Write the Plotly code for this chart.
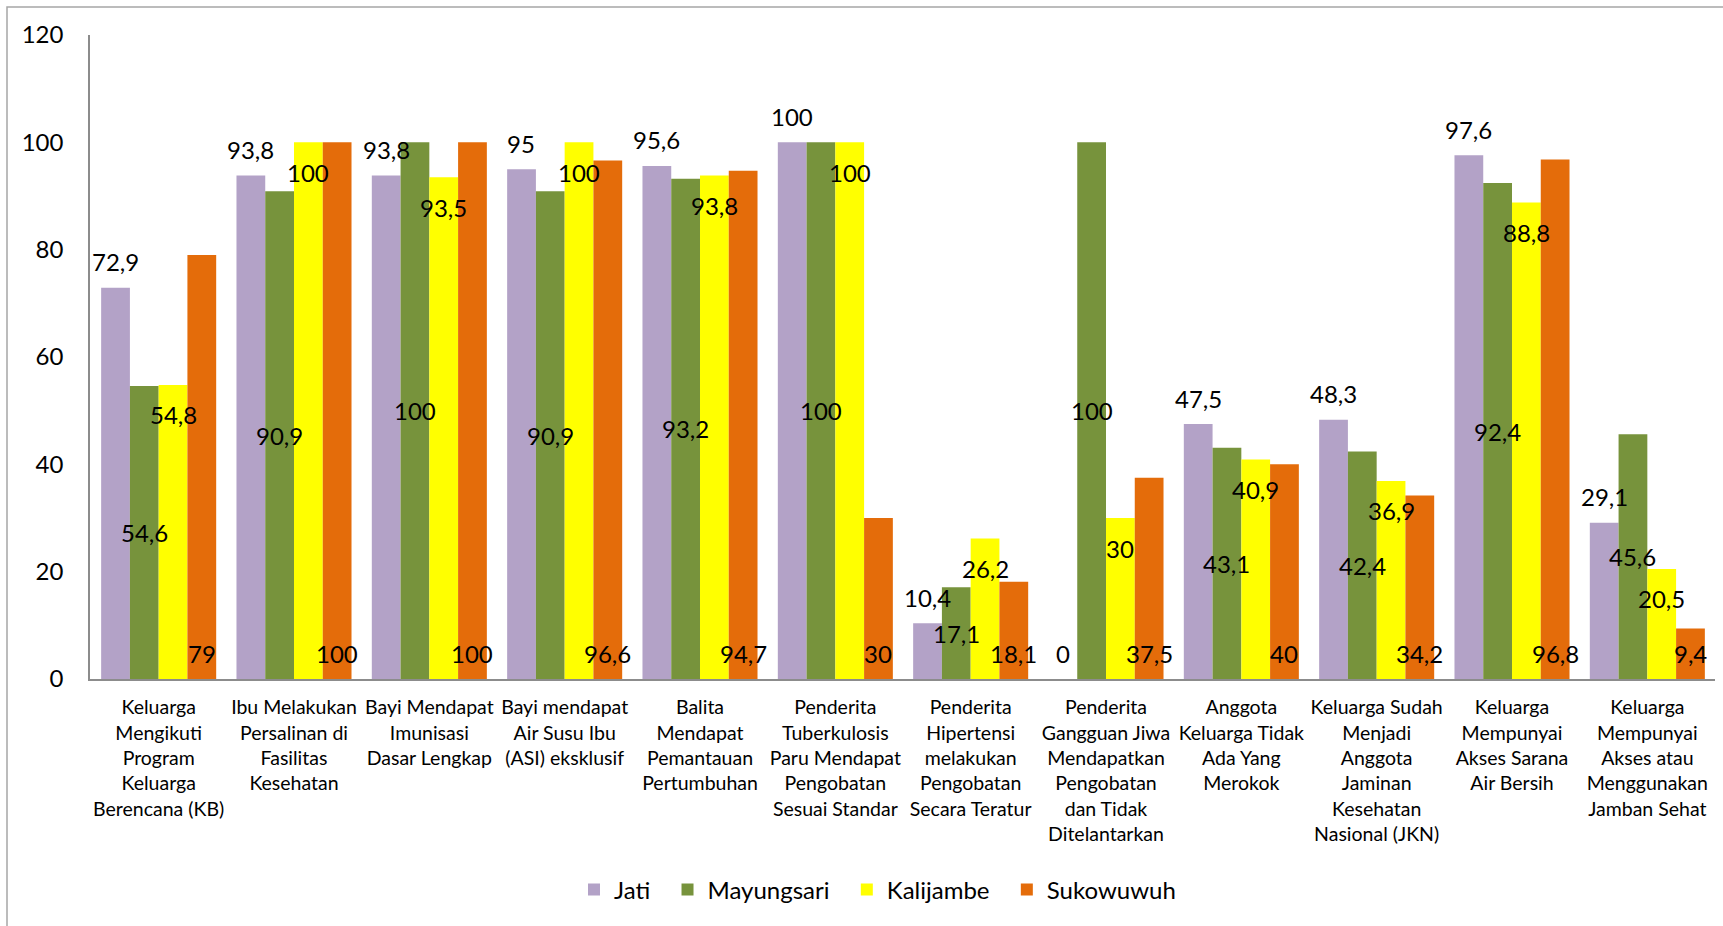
import plotly.graph_objects as go

categories = [
    "Keluarga<br>Mengikuti<br>Program<br>Keluarga<br>Berencana (KB)",
    "Ibu Melakukan<br>Persalinan di<br>Fasilitas<br>Kesehatan",
    "Bayi Mendapat<br>Imunisasi<br>Dasar Lengkap",
    "Bayi mendapat<br>Air Susu Ibu<br>(ASI) eksklusif",
    "Balita<br>Mendapat<br>Pemantauan<br>Pertumbuhan",
    "Penderita<br>Tuberkulosis<br>Paru Mendapat<br>Pengobatan<br>Sesuai Standar",
    "Penderita<br>Hipertensi<br>melakukan<br>Pengobatan<br>Secara Teratur",
    "Penderita<br>Gangguan Jiwa<br>Mendapatkan<br>Pengobatan<br>dan Tidak<br>Ditelantarkan",
    "Anggota<br>Keluarga Tidak<br>Ada Yang<br>Merokok",
    "Keluarga Sudah<br>Menjadi<br>Anggota<br>Jaminan<br>Kesehatan<br>Nasional (JKN)",
    "Keluarga<br>Mempunyai<br>Akses Sarana<br>Air Bersih",
    "Keluarga<br>Mempunyai<br>Akses atau<br>Menggunakan<br>Jamban Sehat",
]

jati = [72.9, 93.8, 93.8, 95, 95.6, 100, 10.4, 0, 47.5, 48.3, 97.6, 29.1]
mayungsari = [54.6, 90.9, 100, 90.9, 93.2, 100, 17.1, 100, 43.1, 42.4, 92.4, 45.6]
kalijambe = [54.8, 100, 93.5, 100, 93.8, 100, 26.2, 30, 40.9, 36.9, 88.8, 20.5]
sukowuwuh = [79, 100, 100, 96.6, 94.7, 30, 18.1, 37.5, 40, 34.2, 96.8, 9.4]

series_names = ["Jati", "Mayungsari", "Kalijambe", "Sukowuwuh"]
series_values = [jati, mayungsari, kalijambe, sukowuwuh]
series_colors = ["#B3A2C7", "#77933C", "#FFFF00", "#E46C0A"]
# label placement per series (Excel style): outside end, centre, inside end, inside base
label_modes = ["outside", "center", "inside_end", "inside_base"]

FONT = "Lato"
W, H = 1723, 926
L, R, T, B = 90, 8, 35, 247
BARGAP = 0.15

def fmt(v):
    return f"{v:g}".replace(".", ",")

fig = go.Figure()
for name, vals, color in zip(series_names, series_values, series_colors):
    fig.add_trace(go.Bar(
        name=name + "\u00a0\u00a0", x=categories, y=vals,
        marker=dict(color=color, line=dict(width=0)),
        hovertemplate=name + ": %{y}<extra></extra>",
    ))

pw = W - L - R
ph = H - T - B
n_series = len(series_names)
bar_px = pw / len(categories) * (1 - BARGAP) / n_series

annotations = []
for k, (vals, mode) in enumerate(zip(series_values, label_modes)):
    xshift = (k - (n_series - 1) / 2) * bar_px
    for i, v in enumerate(vals):
        if mode == "outside":
            y, ys = v, 26
        elif mode == "center":
            y, ys = v / 2, 0
        elif mode == "inside_end":
            y, ys = v, -30
        else:
            y, ys = 0, 26
        annotations.append(dict(
            x=i, y=y, xref="x", yref="y", text=fmt(v), showarrow=False,
            xanchor="center", yanchor="middle", xshift=xshift, yshift=ys,
            font=dict(family=FONT, size=24, color="black"),
        ))

def px_x(p):
    return (p - L) / pw
def px_y(p):
    return (H - B - p) / ph

fig.add_shape(type="rect", xref="paper", yref="paper",
              x0=px_x(7), x1=px_x(1760), y0=px_y(7), y1=px_y(980),
              line=dict(color="#A6A6A6", width=1.5), layer="below")

fig.update_layout(
    width=W, height=H,
    margin=dict(l=L, r=R, t=T, b=B),
    paper_bgcolor="white", plot_bgcolor="white",
    barmode="group", bargap=BARGAP, bargroupgap=0,
    font=dict(family=FONT, size=19.5, color="black"),
    annotations=annotations,
    showlegend=True,
    legend=dict(orientation="h", x=px_x(884), xanchor="center",
                y=px_y(890), yanchor="middle",
                font=dict(family=FONT, size=24, color="black"),
                itemwidth=30, traceorder="normal"),
    xaxis=dict(showline=True, linecolor="#8C8C8C", linewidth=1.5,
               showgrid=False, ticks="", tickangle=0,
               ticklabelstandoff=10,
               tickfont=dict(family=FONT, size=19.5, color="black")),
    yaxis=dict(range=[0, 120], dtick=20, showline=True, linecolor="#8C8C8C",
               linewidth=1.5, showgrid=False, zeroline=False, ticks="",
               ticklabelstandoff=20,
               tickfont=dict(family=FONT, size=24, color="black")),
)

fig.write_html("out.html", config={"displayModeBar": False},
               post_script="document.body.style.margin='0';")
